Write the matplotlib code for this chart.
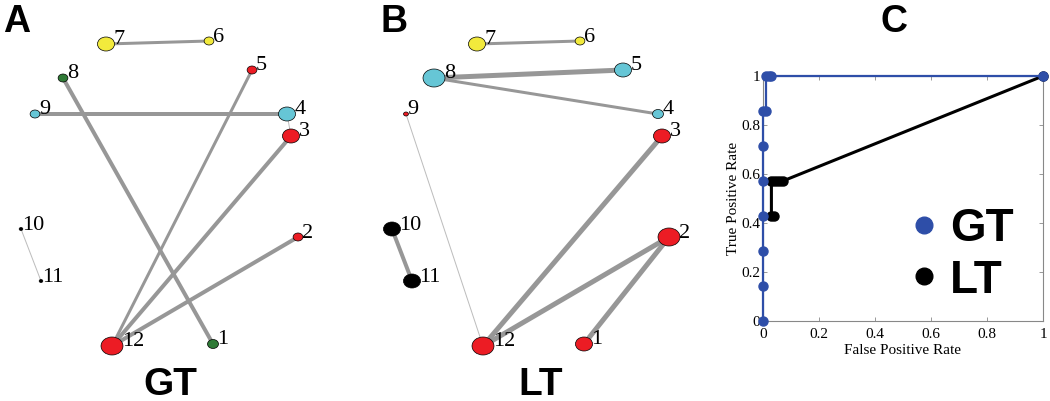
import matplotlib
matplotlib.use("Agg")
import matplotlib.pyplot as plt
from matplotlib.patches import Ellipse
from matplotlib.lines import Line2D

# shared layout of the 12 nodes (same positions in both networks)
node_ids = list(range(1, 13))
node_x = [213, 298, 291, 287, 252, 209, 106, 63, 35, 21, 41, 112]
node_y = [344, 237, 136, 114, 70, 41, 44, 78, 114, 229, 281, 346]

RED, YEL, CYA, GRN, BLK = "#ec1c24", "#f2ea3c", "#66c6d6", "#2f7a36", "#000000"

# GT network
gt_colors = [GRN, RED, RED, CYA, RED, YEL, YEL, GRN, CYA, BLK, BLK, RED]
gt_sizes = [9, 8, 14, 14, 8, 8, 14, 8, 8, 3, 3, 18]
gt_edges = [(7, 6), (8, 1), (5, 12), (9, 4), (4, 3), (3, 12), (2, 12), (10, 11)]
gt_weights = [3, 4, 3, 4, 1, 4, 4, 1]

# LT network
lt_colors = [RED, RED, RED, CYA, CYA, YEL, YEL, CYA, RED, BLK, BLK, RED]
lt_sizes = [14, 18, 14, 9, 14, 8, 14, 18, 4, 14, 14, 18]
lt_edges = [(7, 6), (8, 5), (8, 4), (9, 12), (3, 12), (2, 12), (2, 1), (10, 11)]
lt_weights = [3, 5, 3, 1, 5, 5, 5, 4]

# ROC curves
gt_fpr = [0, 0, 0, 0, 0, 0, 0, 0.01, 0.01, 0.02, 0.03, 1.0]
gt_tpr = [0, 0.143, 0.286, 0.429, 0.571, 0.714, 0.857, 0.857, 1, 1, 1, 1]
lt_fpr = [0.04, 0.03, 0.03, 0.04, 0.05, 0.06, 0.07, 1.0]
lt_tpr = [0.429, 0.429, 0.571, 0.571, 0.571, 0.571, 0.571, 1.0]
roc_ticks = [0, 0.2, 0.4, 0.6, 0.8, 1]
roc_ticklabels = ["0", "0.2", "0.4", "0.6", "0.8", "1"]

W, H = 1050, 401
PANEL_W = 360
fig = plt.figure(figsize=(W / 100, H / 100), dpi=100)


def draw_network(ax, colors, sizes, edges, weights, name):
    ax.set_xlim(0, PANEL_W)
    ax.set_ylim(H, 0)
    ax.axis("off")
    for (a, b), w in zip(edges, weights):
        col = "#bdbdbd" if w <= 1 else "#979797"
        ax.plot([node_x[a - 1], node_x[b - 1]], [node_y[a - 1], node_y[b - 1]],
                color=col, lw=w * 0.72, solid_capstyle="butt", zorder=1)
    for i, nid in enumerate(node_ids):
        h = sizes[i]
        ax.add_patch(Ellipse((node_x[i], node_y[i]), h * 1.22, h, facecolor=colors[i],
                             edgecolor="black", lw=0.5, zorder=2))
        ax.text(node_x[i] + 0.61 * h - 1, node_y[i] - 4, str(nid), ha="left", va="center",
                fontsize=16, family="Liberation Serif", zorder=3)
    ax.text(170, 385, name, ha="center", va="center", fontsize=28,
            fontweight="bold", family="Liberation Sans")


ax_a = fig.add_axes([0, 0, PANEL_W / W, 1])
draw_network(ax_a, gt_colors, gt_sizes, gt_edges, gt_weights, "GT")
ax_b = fig.add_axes([371 / W, 0, PANEL_W / W, 1])
draw_network(ax_b, lt_colors, lt_sizes, lt_edges, lt_weights, "LT")

for letter, xc in [("A", 17), ("B", 394), ("C", 894)]:
    fig.text(xc / W, 1 - 22 / H, letter, ha="center", va="center", fontsize=27,
             fontweight="bold", family="Liberation Sans")

# ROC panel
ax_c = fig.add_axes([763 / W, (H - 321) / H, 280 / W, 245 / H])
BLUE = "#2e4ea8"
ax_c.plot(lt_fpr, lt_tpr, "-o", color="black", lw=2.2, ms=6.5, clip_on=False, zorder=3)
ax_c.plot(gt_fpr, gt_tpr, "-o", color=BLUE, lw=1.6, ms=6.5, clip_on=False, zorder=4)
ax_c.set_xlim(0, 1)
ax_c.set_ylim(0, 1)
ax_c.set_xticks(roc_ticks)
ax_c.set_xticklabels(roc_ticklabels)
ax_c.set_yticks(roc_ticks)
ax_c.set_yticklabels(roc_ticklabels)
ax_c.tick_params(direction="in", length=3, width=0.6, color="#888888", top=True, right=True,
                 labelsize=11, pad=2)
ax_c.tick_params(axis="x", pad=5)
for lab in ax_c.get_xticklabels() + ax_c.get_yticklabels():
    lab.set_family("Liberation Serif")
for sp in ax_c.spines.values():
    sp.set_color("#888888")
    sp.set_linewidth(0.8)
ax_c.set_xlabel("False Positive Rate", family="Liberation Serif", fontsize=11, labelpad=2)
ax_c.set_ylabel("True Positive Rate", family="Liberation Serif", fontsize=11, labelpad=1)

handles = [Line2D([], [], ls="none", marker="o", ms=12, color=BLUE),
           Line2D([], [], ls="none", marker="o", ms=12, color="black")]
ax_c.legend(handles, ["GT", "LT"], loc="center left", bbox_to_anchor=(0.525, 0.27),
            frameon=False, handletextpad=0.27, labelspacing=0.16, handlelength=0.6,
            borderpad=0, borderaxespad=0,
            prop={"family": "Liberation Sans", "weight": "bold", "size": 33})

fig.savefig("out.png", dpi=100)
